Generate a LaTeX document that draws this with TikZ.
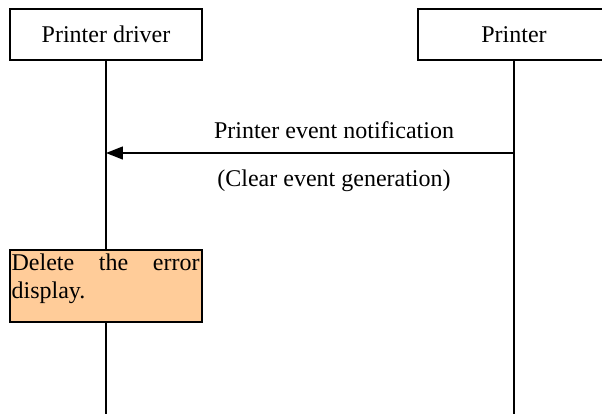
\documentclass[tikz,border=0pt]{standalone}
\usepackage{fontspec}
\setmainfont{Liberation Serif}
\usetikzlibrary{arrows.meta}
\definecolor{actfill}{HTML}{FFCC99}
\begin{document}
\begin{tikzpicture}[x=0.5pt,y=-0.5pt,
  lifebox/.style={draw, line width=0.8pt, minimum width=96pt, minimum height=25.5pt, inner sep=0pt, font=\fontsize{12}{14}\selectfont},
  lifeline/.style={line width=0.7pt},
  msg/.style={line width=0.7pt, -{Triangle[length=8.5pt,width=6.5pt]}},
  actbox/.style={draw, line width=0.8pt, fill=actfill, minimum width=96pt, minimum height=36pt, inner sep=0pt},
  acttext/.style={text width=94pt, align=justify, inner sep=1pt, font=\fontsize{12}{14}\selectfont},
  lbl/.style={font=\fontsize{12}{14}\selectfont, inner sep=0pt}]
\useasboundingbox (0,0) rectangle (602,414);
\node[lifebox] (drv) at (106,34.5) {Printer driver};
\node[lifebox] (prn) at (514,34.5) {Printer};
\coordinate (drvend) at (106,414);
\coordinate (prnend) at (514,414);
\coordinate (msgS) at (514,153);
\coordinate (msgE) at (106,153);
\node[actbox, anchor=north] (act) at (106,249) {};
\node[acttext, anchor=north west] (acttxt) at ([yshift=-1pt]act.north west) {Delete the error\linebreak display.};
\draw[lifeline] (drv.south) -- (act.north);
\draw[lifeline] (act.south) -- (drvend);
\draw[lifeline] (prn.south) -- (prnend);
\draw[msg] (msgS) -- (msgE);
\node[lbl] (m1) at (334,130) {Printer event notification};
\node[lbl] (m2) at (334,181) {(Clear event generation)};
\end{tikzpicture}
\end{document}
